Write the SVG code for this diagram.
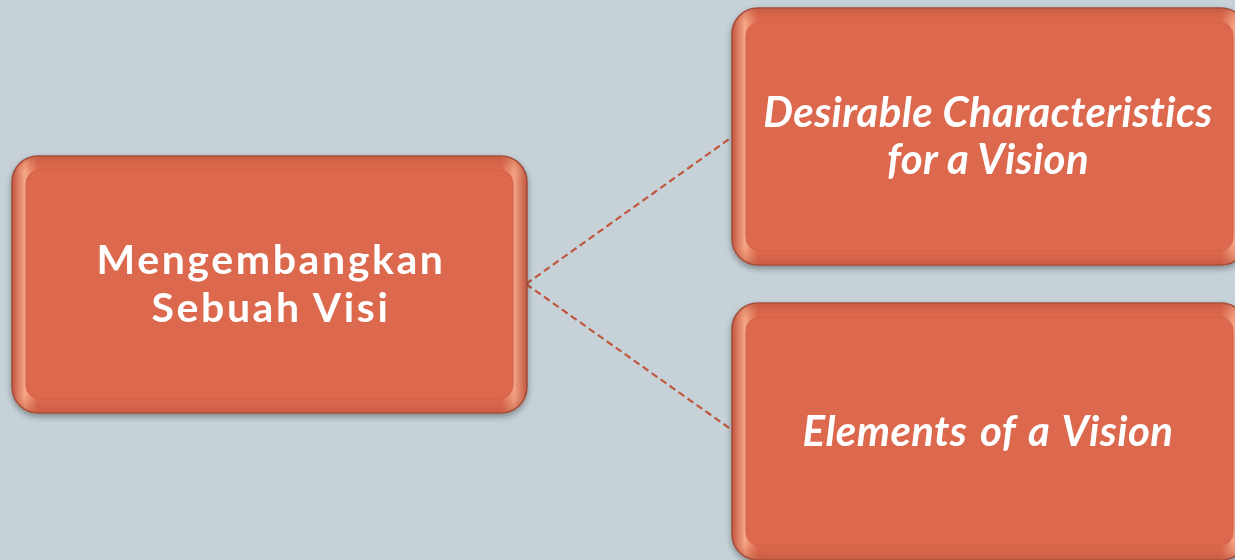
<svg xmlns="http://www.w3.org/2000/svg" width="1235" height="560" viewBox="0 0 1235 560">
  <defs>
    <linearGradient id="edgeH" x1="0" y1="0" x2="1" y2="0">
      <stop offset="0" stop-color="#C4573F"/>
      <stop offset="0.025" stop-color="#F6A787"/>
      <stop offset="0.05" stop-color="#DC684D"/>
      <stop offset="0.95" stop-color="#DC684D"/>
      <stop offset="0.975" stop-color="#F3A283"/>
      <stop offset="1" stop-color="#C05840"/>
    </linearGradient>
    <linearGradient id="edgeV" x1="0" y1="0" x2="0" y2="1">
      <stop offset="0" stop-color="#B8533C" stop-opacity="0.6"/>
      <stop offset="0.06" stop-color="#DC684D" stop-opacity="0"/>
      <stop offset="0.93" stop-color="#DC684D" stop-opacity="0"/>
      <stop offset="1" stop-color="#B8533C" stop-opacity="0.6"/>
    </linearGradient>
    <filter id="shadow" x="-5%" y="-5%" width="110%" height="115%">
      <feDropShadow dx="0" dy="3" stdDeviation="3" flood-color="#000" flood-opacity="0.35"/>
    </filter>
  </defs>
  <style>
    .outer { fill: url(#edgeH); stroke: #9E4C3A; stroke-width: 1.5; }
    .shade { fill: url(#edgeV); }
    .inner { fill: #DC684D; stroke: #D4634A; stroke-width: 1; }
    .conn { stroke: #C0573F; stroke-width: 2.2; stroke-dasharray: 7 4; fill: none; }
    .lbl { fill: #FFFFFF; font-family: Lato, "Open Sans", "Liberation Sans", sans-serif; font-weight: 700; text-anchor: middle; }
    .it { font-style: italic; }
  </style>
  <rect width="1235" height="560" fill="#C6D2D8"/>

  <g id="connectors">
    <line class="conn" x1="526" y1="284" x2="732" y2="137"/>
    <line class="conn" x1="526" y1="284" x2="732" y2="430"/>
  </g>

  <g id="node-main" filter="url(#shadow)">
    <rect class="outer" x="12" y="156" width="515" height="257" rx="26"/>
    <rect class="shade" x="12" y="156" width="515" height="257" rx="26"/>
    <rect class="inner" x="26" y="170" width="487" height="229" rx="14"/>
    <text class="lbl" font-size="41" letter-spacing="2.6" x="271" y="274">Mengembangkan</text>
    <text class="lbl" font-size="41" letter-spacing="2.6" x="271" y="322">Sebuah Visi</text>
  </g>

  <g id="node-desirable" filter="url(#shadow)">
    <rect class="outer" x="732" y="8" width="515" height="257" rx="26"/>
    <rect class="shade" x="732" y="8" width="515" height="257" rx="26"/>
    <rect class="inner" x="746" y="22" width="487" height="229" rx="14"/>
    <text class="lbl it" font-size="42" letter-spacing="0.35" x="988" y="127">Desirable Characteristics</text>
    <text class="lbl it" font-size="42" letter-spacing="0.35" x="988" y="174">for a Vision</text>
  </g>

  <g id="node-elements" filter="url(#shadow)">
    <rect class="outer" x="732" y="303" width="515" height="257" rx="26"/>
    <rect class="shade" x="732" y="303" width="515" height="257" rx="26"/>
    <rect class="inner" x="746" y="317" width="487" height="229" rx="14"/>
    <text class="lbl it" font-size="42" letter-spacing="0.4" word-spacing="3" x="988" y="446">Elements of a Vision</text>
  </g>
</svg>
